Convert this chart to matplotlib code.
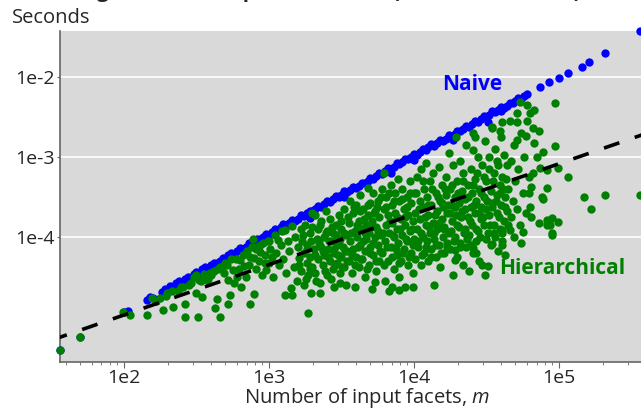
import numpy as np
import matplotlib.pyplot as plt

plt.rcParams['font.family'] = ['Open Sans', 'DejaVu Sans']
plt.rcParams['mathtext.fontset'] = 'custom'
plt.rcParams['mathtext.it'] = 'Open Sans:italic'
plt.rcParams['mathtext.rm'] = 'Open Sans'

# values, as (log10 m, log10 seconds)
naive_pts = [
    (1.56, -5.41), (1.70, -5.25), (2.00, -4.94), (2.03, -4.92),
    (2.16, -4.79), (2.18, -4.75), (2.20, -4.76), (2.26, -4.69), (2.28, -4.65),
    (2.30, -4.66), (2.32, -4.61), (2.34, -4.62), (2.36, -4.58), (2.38, -4.55),
    (2.40, -4.56), (2.42, -4.53), (2.44, -4.50), (2.46, -4.51), (2.48, -4.46),
    (2.50, -4.44), (2.52, -4.45), (2.54, -4.40), (2.56, -4.38), (2.58, -4.39),
    (2.60, -4.35), (2.62, -4.32), (2.64, -4.33), (2.66, -4.30), (2.68, -4.26),
    (2.70, -4.27), (2.72, -4.23), (2.74, -4.20), (2.76, -4.21), (2.78, -4.18),
    (2.80, -4.14), (2.82, -4.15), (2.84, -4.12), (2.86, -4.08), (2.88, -4.09),
    (2.90, -4.06), (2.92, -4.02), (2.94, -4.03), (2.96, -4.00), (2.98, -3.96),
    (3.00, -3.97), (3.02, -3.94), (3.04, -3.90), (3.06, -3.91), (3.08, -3.88),
    (3.10, -3.84), (3.12, -3.86), (3.14, -3.82), (3.16, -3.79), (3.18, -3.80),
    (3.20, -3.77), (3.22, -3.73), (3.24, -3.74), (3.26, -3.70), (3.28, -3.67),
    (3.30, -3.68), (3.32, -3.65), (3.34, -3.61), (3.36, -3.62), (3.38, -3.59),
    (3.40, -3.55), (3.42, -3.56), (3.44, -3.53), (3.46, -3.49), (3.48, -3.50),
    (3.50, -3.47), (3.52, -3.43), (3.54, -3.44), (3.56, -3.41), (3.58, -3.38),
    (3.60, -3.39), (3.62, -3.36), (3.64, -3.32), (3.66, -3.33), (3.68, -3.30),
    (3.70, -3.26), (3.72, -3.27), (3.74, -3.24), (3.76, -3.20), (3.78, -3.21),
    (3.80, -3.18), (3.82, -3.14), (3.84, -3.15), (3.86, -3.12), (3.88, -3.08),
    (3.90, -3.09), (3.92, -3.06), (3.94, -3.02), (3.96, -3.03), (3.98, -3.00),
    (4.00, -2.96), (4.02, -2.97), (4.04, -2.94), (4.06, -2.90), (4.08, -2.91),
    (4.10, -2.88), (4.12, -2.84), (4.14, -2.86), (4.16, -2.82), (4.18, -2.79),
    (4.20, -2.80), (4.22, -2.77), (4.24, -2.73), (4.26, -2.74), (4.28, -2.71),
    (4.30, -2.67), (4.32, -2.68), (4.34, -2.65), (4.36, -2.61), (4.38, -2.62),
    (4.40, -2.59), (4.42, -2.55), (4.44, -2.56), (4.46, -2.53), (4.48, -2.49),
    (4.50, -2.50), (4.52, -2.47), (4.54, -2.43), (4.56, -2.44), (4.58, -2.41),
    (4.60, -2.38), (4.62, -2.39), (4.64, -2.36), (4.66, -2.32), (4.68, -2.33),
    (4.70, -2.30), (4.72, -2.26), (4.74, -2.27), (4.76, -2.24), (4.78, -2.21),
    (2.62, -4.37), (3.28, -3.76), (3.52, -3.50), (3.84, -3.20), (4.00, -3.04),
    (4.27, -2.79), (4.51, -2.56), (4.60, -2.43),
    (4.87, -2.12), (4.93, -2.06), (5.00, -2.01), (5.06, -1.95), (5.16, -1.87),
    (5.21, -1.81), (5.32, -1.70), (5.56, -1.43),
]

hier_pts = [
    (1.56, -5.41), (1.70, -5.25), (1.99, -4.94), (2.04, -4.97), (2.16, -4.98),
    (2.19, -4.76), (2.27, -4.91), (2.30, -4.70), (2.34, -4.88), (2.39, -4.63),
    (2.42, -5.00), (2.42, -4.84), (2.46, -4.58), (2.50, -4.70), (2.50, -4.48),
    (2.51, -5.00), (2.54, -4.75), (2.52, -4.54), (2.57, -4.54), (2.60, -4.48),
    (2.63, -4.89), (2.64, -4.78), (2.66, -5.00), (2.66, -4.38), (2.71, -4.35),
    (2.72, -4.54), (2.72, -4.84), (2.73, -4.73), (2.75, -4.41), (2.80, -4.29),
    (2.84, -4.50), (2.86, -4.35), (2.87, -4.84), (2.88, -4.13), (2.90, -4.26),
    (2.90, -4.71), (2.94, -4.19), (2.96, -4.08), (2.98, -4.41), (3.02, -4.25),
    (3.06, -4.04), (3.07, -4.35), (3.11, -3.91), (3.11, -4.73), (3.12, -4.45),
    (3.15, -4.64),
    (2.22, -4.80), (2.25, -4.76), (2.29, -4.74), (2.33, -4.68), (2.37, -4.68),
    (2.41, -4.62), (2.45, -4.60), (2.53, -4.55), (2.59, -4.45), (2.62, -4.42),
    (2.65, -4.40), (2.68, -4.36), (2.70, -4.32), (2.77, -4.28), (2.82, -4.22),
    (2.85, -4.18), (2.87, -4.25), (2.91, -4.15), (2.94, -4.10), (2.97, -4.32),
    (3.00, -4.05),
    (2.48, -4.50), (2.55, -4.46), (2.58, -4.52), (2.69, -4.45), (2.74, -4.28),
    (2.76, -4.58), (2.78, -4.50), (2.79, -4.40), (2.81, -4.62), (2.83, -4.36),
    (2.89, -4.02), (2.91, -4.40), (2.92, -4.12), (2.93, -4.30), (2.95, -4.48),
    (2.97, -4.22), (2.99, -4.05), (3.00, -4.33), (3.01, -4.15), (3.03, -4.50),
    (3.04, -3.98), (3.05, -4.20), (3.08, -4.10), (3.09, -3.92), (3.10, -4.28),
    (3.13, -4.05), (3.14, -4.18), (3.16, -3.86), (3.17, -4.38), (3.18, -4.00),
    (3.19, -4.55), (3.20, -4.12), (3.21, -4.26),
    (3.22, -3.90), (3.22, -4.42), (3.23, -4.05), (3.24, -4.60), (3.24, -4.20),
    (3.25, -3.85), (3.26, -4.32), (3.26, -4.10), (3.27, -4.95), (3.27, -4.48),
    (3.28, -3.95), (3.28, -4.25), (3.29, -4.70), (3.29, -4.05), (3.30, -4.38),
    (3.30, -3.70), (3.16, -4.73),
    (3.31, -4.15), (3.32, -3.72), (3.32, -4.45), (3.33, -4.02), (3.34, -4.28),
    (3.34, -3.90), (3.35, -4.58), (3.36, -4.12), (3.36, -3.80), (3.37, -4.35),
    (3.38, -4.00), (3.38, -4.22), (3.39, -3.68), (3.40, -4.48), (3.40, -3.92),
    (3.41, -4.15), (3.42, -4.30), (3.42, -3.78), (3.43, -4.05), (3.44, -4.40),
    (3.44, -3.95), (3.45, -4.62), (3.45, -4.20), (3.46, -3.85), (3.47, -4.10),
    (3.47, -4.32), (3.48, -3.72), (3.49, -4.02), (3.49, -4.45), (3.50, -4.25),
    (3.50, -3.90), (3.51, -4.12), (3.52, -3.65), (3.52, -4.38), (3.53, -3.98),
    (3.53, -4.60), (3.54, -4.18), (3.35, -4.70), (3.49, -4.58),
    (3.55, -3.82), (3.55, -4.30), (3.56, -3.55), (3.56, -4.05), (3.57, -4.45),
    (3.58, -3.70), (3.58, -4.15), (3.59, -3.92), (3.59, -4.62), (3.60, -4.25),
    (3.60, -3.60), (3.61, -4.00), (3.62, -3.80), (3.62, -4.38), (3.63, -4.10),
    (3.63, -3.48), (3.64, -3.90), (3.64, -4.28), (3.65, -3.65), (3.66, -4.18),
    (3.66, -4.50), (3.67, -3.85), (3.67, -4.02), (3.68, -3.39), (3.68, -3.72),
    (3.69, -4.35), (3.69, -3.95), (3.70, -4.12), (3.70, -3.58), (3.71, -4.65),
    (3.71, -3.80), (3.72, -4.22), (3.72, -3.45), (3.73, -4.00), (3.73, -3.68),
    (3.74, -4.42), (3.74, -3.88), (3.75, -4.10), (3.75, -3.55), (3.76, -4.30),
    (3.76, -3.75), (3.77, -3.98), (3.73, -4.56),
    (3.78, -3.40), (3.78, -4.20), (3.79, -3.20), (3.79, -3.65), (3.80, -4.05),
    (3.80, -4.55), (3.81, -3.85), (3.81, -3.50), (3.82, -4.30), (3.82, -3.72),
    (3.83, -3.95), (3.83, -4.68), (3.84, -3.35), (3.84, -4.12), (3.85, -3.60),
    (3.85, -3.82), (3.86, -4.40), (3.86, -4.00), (3.87, -3.45), (3.87, -3.70),
    (3.88, -4.22), (3.88, -3.90), (3.89, -3.28), (3.89, -4.08), (3.90, -3.55),
    (3.90, -4.50), (3.91, -3.78), (3.91, -4.30), (3.92, -3.98), (3.92, -3.40),
    (3.93, -4.15), (3.93, -3.65), (3.94, -3.85), (3.94, -4.62), (3.95, -3.50),
    (3.95, -4.05), (3.96, -4.35), (3.96, -3.72), (3.97, -3.30), (3.97, -3.92),
    (3.98, -4.20), (3.98, -3.58), (3.99, -3.80), (3.99, -4.45), (4.00, -4.02),
    (4.00, -3.45), (3.99, -4.63), (3.90, -4.66), (3.85, -4.63),
    (4.01, -3.70), (4.01, -4.28), (4.02, -3.25), (4.02, -3.90), (4.03, -4.12),
    (4.04, -3.55), (4.04, -3.78), (4.05, -4.35), (4.05, -3.15), (4.06, -4.00),
    (4.06, -3.62), (4.07, -3.40), (4.07, -4.20), (4.08, -3.85), (4.08, -3.08),
    (4.09, -4.05), (4.09, -3.50), (4.10, -3.72), (4.10, -4.30), (4.11, -3.30),
    (4.11, -3.95), (4.12, -4.15), (4.12, -3.60), (4.13, -3.82), (4.13, -3.20),
    (4.14, -4.60), (4.14, -4.02), (4.15, -3.45), (4.15, -4.25), (4.16, -3.68),
    (4.16, -3.90), (4.17, -3.12), (4.17, -4.10), (4.18, -3.55), (4.18, -4.38),
    (4.19, -3.78), (4.19, -3.35), (4.20, -4.00), (4.20, -3.62), (4.21, -4.20),
    (4.21, -3.88), (4.22, -3.25), (4.22, -3.48), (4.23, -4.08), (4.23, -3.70),
    (4.24, -3.95), (4.24, -2.95), (4.25, -3.40), (4.25, -4.15), (4.26, -3.60),
    (4.26, -3.80), (4.27, -4.48), (4.27, -3.10), (4.28, -3.50), (4.28, -4.00),
    (4.29, -3.72), (4.29, -2.75), (4.30, -3.30), (4.30, -4.25), (4.31, -3.88),
    (4.31, -3.58), (4.32, -3.05), (4.32, -4.08), (4.33, -3.42), (4.33, -3.68),
    (4.34, -4.35), (4.34, -3.20), (4.35, -3.90), (4.35, -3.52), (4.36, -2.85),
    (4.36, -4.12), (4.37, -3.75), (4.37, -3.35), (4.38, -3.98), (4.38, -4.42),
    (4.39, -3.62), (4.39, -3.15), (4.40, -3.85), (4.40, -3.45), (4.41, -4.20),
    (4.41, -2.70), (4.42, -3.70), (4.42, -3.28), (4.43, -4.05), (4.43, -3.55),
    (4.44, -3.92), (4.44, -3.00), (4.45, -3.40), (4.45, -4.30), (4.46, -3.78),
    (4.46, -3.62), (4.28, -4.29), (4.28, -4.16), (4.41, -4.14), (4.43, -4.20),
    (4.42, -2.75), (4.41, -2.91),
    (4.47, -4.35), (4.47, -3.10), (4.48, -3.50), (4.48, -3.85), (4.49, -4.48),
    (4.49, -2.80), (4.50, -3.65), (4.50, -3.30), (4.51, -4.36), (4.51, -3.95),
    (4.52, -3.00), (4.52, -3.72), (4.53, -3.42), (4.53, -4.10), (4.54, -2.62),
    (4.54, -3.58), (4.55, -3.85), (4.55, -3.20), (4.56, -4.00), (4.56, -2.90),
    (4.57, -3.48), (4.57, -3.70), (4.58, -4.18), (4.58, -3.10), (4.59, -3.35),
    (4.59, -3.90), (4.60, -2.75), (4.60, -3.60), (4.61, -4.05), (4.61, -3.25),
    (4.62, -3.80), (4.62, -2.98), (4.63, -4.22), (4.63, -3.50), (4.64, -3.68),
    (4.64, -3.10), (4.54, -4.09), (4.61, -4.10), (4.61, -3.91), (4.66, -3.91),
    (4.61, -2.56), (4.54, -2.64), (4.59, -2.68), (4.71, -2.56), (4.71, -2.79),
    (4.77, -2.74),
    (4.65, -3.40), (4.66, -2.55), (4.67, -3.75), (4.67, -3.05), (4.68, -3.55),
    (4.69, -2.85), (4.69, -4.00), (4.70, -3.30), (4.71, -3.65), (4.71, -2.45),
    (4.72, -3.15), (4.73, -3.85), (4.74, -2.70), (4.75, -3.45), (4.76, -3.00),
    (4.77, -3.70), (4.78, -2.55), (4.79, -3.25),
    (4.73, -2.31), (4.78, -2.35), (4.80, -2.45), (4.83, -2.41), (4.82, -2.64),
    (4.86, -2.68), (4.83, -2.83), (4.85, -3.00), (4.89, -2.94), (4.97, -2.86),
    (4.87, -3.14), (4.92, -3.16), (4.82, -3.20), (4.81, -3.38), (4.79, -3.45),
    (4.80, -3.63), (4.81, -3.75), (4.86, -3.83), (4.92, -3.79), (4.94, -3.85),
    (4.95, -3.95), (4.99, -3.81), (4.92, -3.39), (4.88, -3.50), (4.75, -3.94),
    (4.74, -4.08), (4.89, -3.53), (4.95, -3.76), (4.99, -3.14), (4.92, -3.85),
    (4.95, -3.98), (4.97, -2.33),
    (5.06, -3.25), (5.17, -3.50), (5.22, -3.65), (5.32, -3.48), (5.56, -3.48),
    # dense middle of the cloud
    (3.205, -4.35), (3.235, -3.98), (3.255, -4.52), (3.265, -4.15), (3.285, -4.40),
    (3.295, -3.88), (3.315, -4.22), (3.325, -4.55), (3.345, -4.08), (3.355, -3.85),
    (3.375, -4.18), (3.385, -4.42), (3.395, -3.95), (3.405, -4.25), (3.415, -4.05),
    (3.425, -4.52), (3.435, -3.88), (3.445, -4.15), (3.455, -4.35), (3.465, -3.98),
    (3.475, -4.22), (3.485, -4.05), (3.495, -3.80), (3.505, -4.38), (3.515, -3.95),
    (3.525, -4.18), (3.535, -4.30), (3.545, -3.75), (3.565, -3.95), (3.575, -4.22),
    (3.585, -3.62), (3.595, -4.35), (3.605, -3.85), (3.615, -4.12), (3.625, -3.68),
    (3.635, -4.28), (3.645, -4.05), (3.655, -3.78), (3.665, -3.95), (3.675, -4.40),
    (3.685, -3.60), (3.695, -4.20), (3.705, -3.88), (3.715, -4.08), (3.725, -3.70),
    (3.735, -4.30), (3.745, -3.62), (3.755, -3.92), (3.765, -4.18), (3.775, -3.50),
    (3.785, -3.95), (3.795, -4.35), (3.805, -3.62), (3.815, -4.12), (3.825, -3.45),
    (3.835, -3.80), (3.845, -4.25), (3.855, -3.98), (3.865, -3.55), (3.875, -4.15),
    (3.885, -3.75), (3.895, -4.32), (3.905, -3.90), (3.915, -3.52), (3.925, -4.20),
    (3.935, -3.75), (3.945, -4.02), (3.955, -3.62), (3.965, -4.25), (3.975, -3.45),
    (3.985, -3.90), (3.995, -4.10),
    (4.015, -3.45), (4.025, -4.05), (4.035, -3.65), (4.045, -3.95), (4.055, -4.22),
    (4.065, -3.30), (4.075, -3.75), (4.085, -4.12), (4.095, -3.60), (4.105, -3.88),
    (4.115, -4.25), (4.125, -3.40), (4.135, -3.95), (4.145, -3.72), (4.155, -4.10),
    (4.165, -3.50), (4.175, -3.82), (4.185, -4.20), (4.195, -3.58), (4.205, -3.90),
    (4.215, -3.40), (4.225, -4.12), (4.235, -3.60),
    (4.245, -3.70), (4.255, -3.92), (4.265, -3.35), (4.275, -4.05), (4.285, -3.62),
    (4.295, -3.85), (4.305, -3.45), (4.315, -4.12), (4.325, -3.75), (4.335, -3.30),
    (4.345, -3.95), (4.355, -3.65), (4.365, -4.02), (4.375, -3.50), (4.385, -3.80),
    (4.395, -4.10), (4.405, -3.35), (4.415, -3.60), (4.425, -3.90), (4.435, -3.20),
    (4.445, -3.70), (4.455, -4.00),
    (4.465, -3.45), (4.475, -3.75), (4.485, -3.25), (4.495, -4.02), (4.505, -3.55),
    (4.515, -3.15), (4.525, -3.85), (4.535, -3.62), (4.545, -3.30), (4.555, -3.95),
    (4.565, -3.55), (4.575, -3.05), (4.585, -3.75), (4.595, -3.45), (4.605, -3.95),
    (4.615, -3.40), (4.625, -3.62), (4.635, -3.28), (4.645, -3.85),
]

# dashed reference line, two ends
fit_logm = [1.50, 5.80]
fit_logt = [-5.29, -2.58]

xticks = [1e2, 1e3, 1e4, 1e5]
xtick_labels = ['1e2', '1e3', '1e4', '1e5']
yticks = [1e-4, 1e-3, 1e-2]
ytick_labels = ['1e-4', '1e-3', '1e-2']

naive = 10 ** np.array(naive_pts)
hier = 10 ** np.array(hier_pts)

fig = plt.figure(figsize=(6.41, 4.12), dpi=100)
ax = fig.add_axes([60 / 641, 1 - 362 / 412, 614 / 641, 331 / 412])
ax.set_facecolor('#d9d9d9')
ax.set_xscale('log')
ax.set_yscale('log')
ax.set_xlim(10 ** 1.559, 10 ** 5.793)
ax.set_ylim(10 ** -5.5625, 10 ** -1.425)

ax.set_yticks(yticks)
ax.set_yticklabels(ytick_labels)
ax.yaxis.set_minor_locator(plt.NullLocator())
ax.set_xticks(xticks)
ax.set_xticklabels(xtick_labels)
ax.grid(axis='y', color='white', lw=1.2)
ax.set_axisbelow(True)

for s in ['top', 'right']:
    ax.spines[s].set_visible(False)
for s in ['left', 'bottom']:
    ax.spines[s].set_color('#666666')
    ax.spines[s].set_linewidth(1.2)
ax.tick_params(colors='#262626', labelsize=14)
ax.tick_params(axis='y', length=2, color='#666666', pad=2)
ax.tick_params(axis='x', which='major', length=4, color='#666666', pad=1)
ax.tick_params(axis='x', which='minor', length=2.5, color='#666666')

ax.scatter(naive[:, 0], naive[:, 1], s=36, color='#0000ff', lw=0, clip_on=False, zorder=3)
ax.scatter(hier[:, 0], hier[:, 1], s=36, color='#008000', lw=0, clip_on=False, zorder=4)
ax.plot(10 ** np.array(fit_logm), 10 ** np.array(fit_logt), color='black', lw=2.6,
        ls=(0, (4.5, 4.5)), zorder=5)

ax.text(10 ** 4.40, 10 ** -2.10, 'Naive', color='#0000ff', fontsize=15,
        fontweight='bold', ha='center', va='center')
ax.text(10 ** 5.02, 10 ** -4.39, 'Hierarchical', color='#008000', fontsize=15,
        fontweight='bold', ha='center', va='center')

ax.set_xlabel('Number of input facets, $m$', fontsize=14.5, color='#262626', labelpad=-1)
fig.text(12 / 641, 1 - 18 / 412, 'Seconds', fontsize=14.5, color='#262626',
         ha='left', va='center')
# chart title sits above the cropped top edge, only the descenders show
fig.text(309 / 641, 1 + 2.5 / 412, 'Timing of facet computation time (3D mesh dataset)',
         fontsize=15, fontweight='bold', color='#262626', ha='center', va='baseline')

fig.savefig('out.png', dpi=100)
